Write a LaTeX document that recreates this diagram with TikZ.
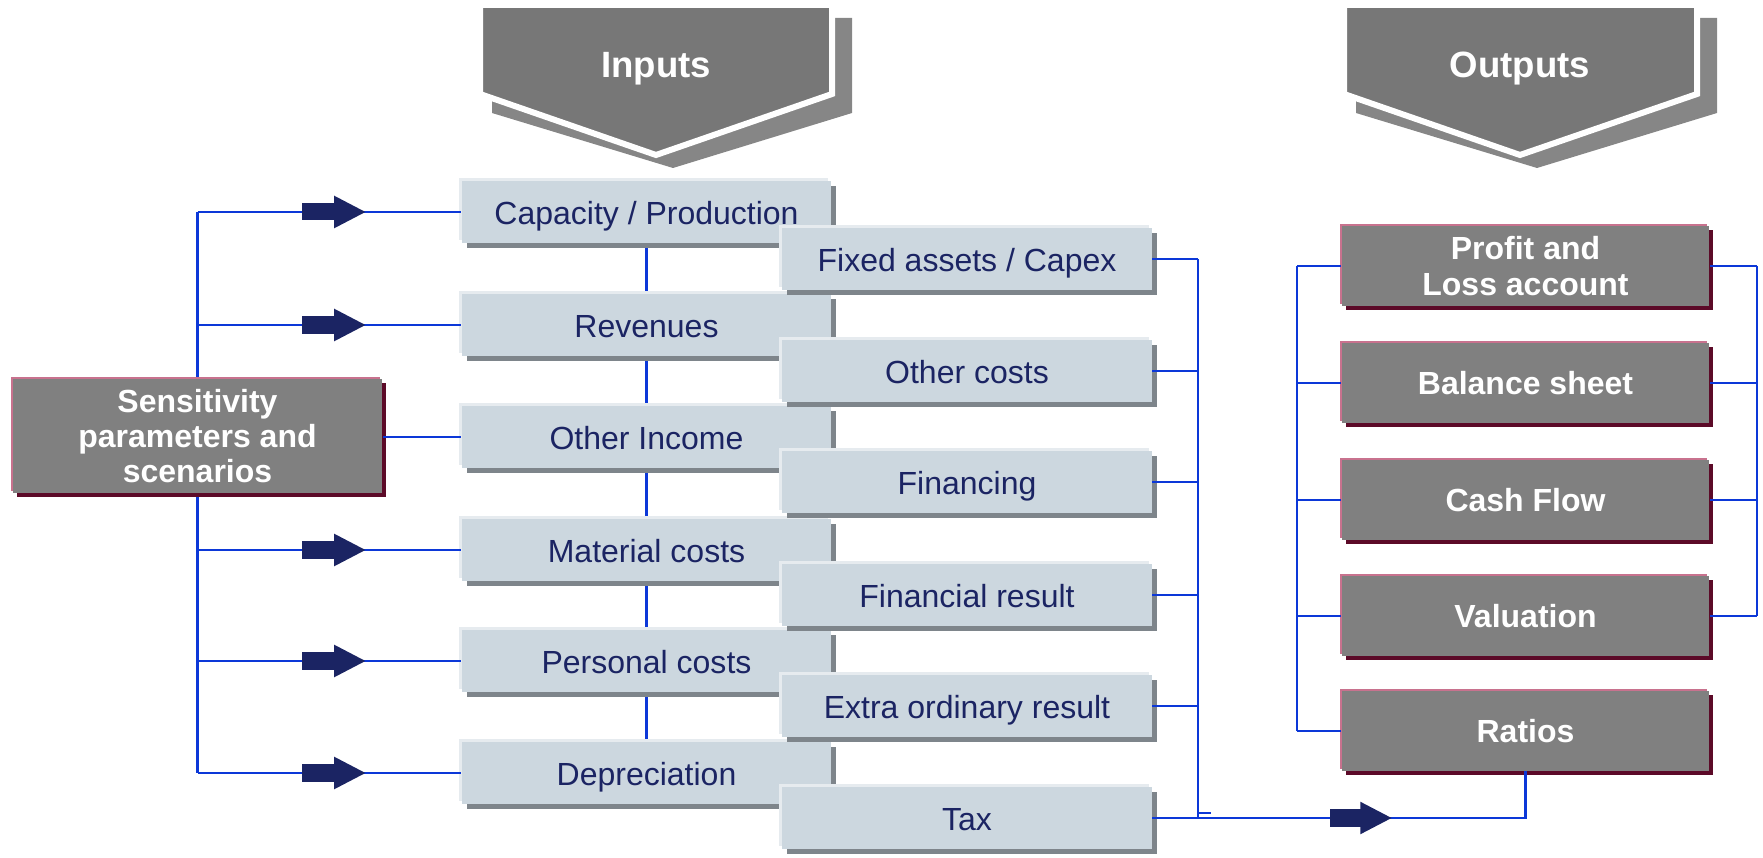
\documentclass[tikz,border=0pt]{standalone}
\usepackage{fontspec}
\setmainfont{Liberation Sans}
\usetikzlibrary{arrows.meta,
                backgrounds,
                shadows
            }

\definecolor{wire}{HTML}{0C38D8}
\definecolor{navy}{HTML}{1B2463}
\definecolor{infill}{HTML}{CCD7DF}
\definecolor{inshade}{HTML}{7E858B}
\definecolor{inlight}{HTML}{E6EBEF}
\definecolor{outfill}{HTML}{808080}
\definecolor{outrim}{HTML}{C8728E}
\definecolor{outshade}{HTML}{5C0A28}
\definecolor{headfront}{HTML}{777777}
\definecolor{headback}{HTML}{868686}

\begin{document}
\begin{tikzpicture}[x=0.01cm, y=-0.01cm,
        inbox/.style={fill=infill, text=navy, minimum width=3.69cm, minimum height=0.62cm,
            inner sep=0pt, text height=0.72em, text depth=0pt,
            font=\fontsize{9.1}{10}\selectfont,
            drop shadow={shadow xshift=-0.03cm, shadow yshift=0.03cm, fill=inlight, opacity=1},
            drop shadow={shadow xshift=0.05cm, shadow yshift=-0.05cm, fill=inshade, opacity=1}},
        outbox/.style={fill=outfill, text=white, minimum width=3.67cm, minimum height=0.79cm,
            inner sep=0pt, align=center, font=\bfseries\fontsize{9.1}{10}\selectfont,
            drop shadow={shadow xshift=-0.02cm, shadow yshift=0.02cm, fill=outrim, opacity=1},
            drop shadow={shadow xshift=0.04cm, shadow yshift=-0.04cm, fill=outshade, opacity=1}},
        headtext/.style={text=white, inner sep=0pt, anchor=base,
            font=\bfseries\fontsize{10.4}{12}\selectfont},
        wire/.style={draw=wire, line width=0.6pt},
        fatarrow/.style={draw=navy, line width=0.17cm,
            -{Triangle[length=0.32cm, width=0.30cm]}}
    ]
    \useasboundingbox (0,0) rectangle (1763,858);

    % headings
    \fill[headback] (492,18) -- (852,18) -- (852,113) -- (673,168) -- (492,113) -- cycle;
    \filldraw[fill=headfront, draw=white, line width=0.06cm]
        (480,5) -- (832,5) -- (832,94) -- (656,155) -- (480,94) -- cycle;
    \node[headtext] (intitle) at (656,78) {Inputs};

    \fill[headback] (1356,18) -- (1717,18) -- (1717,113) -- (1537,168) -- (1356,113) -- cycle;
    \filldraw[fill=headfront, draw=white, line width=0.06cm]
        (1344,5) -- (1697,5) -- (1697,94) -- (1520,155) -- (1344,94) -- cycle;
    \node[headtext] (outtitle) at (1520,78) {Outputs};

    % sensitivity
    \node[outbox, minimum width=3.69cm, minimum height=1.13cm] (sens) at (197.5,436)
        {Sensitivity\\parameters and\\scenarios};

    % inputs
    \node[inbox] (cap)  at (646.5,212) {Capacity / Production};
    \node[inbox] (rev)  at (646.5,325) {Revenues};
    \node[inbox] (inc)  at (646.5,437) {Other Income};
    \node[inbox] (mat)  at (646.5,550) {Material costs};
    \node[inbox] (pers) at (646.5,661) {Personal costs};
    \node[inbox] (depr) at (646.5,773) {Depreciation};

    \node[inbox] (fix)   at (967,259) {Fixed assets / Capex};
    \node[inbox] (oth)   at (967,371) {Other costs};
    \node[inbox] (fin)   at (967,482) {Financing};
    \node[inbox] (fres)  at (967,595) {Financial result};
    \node[inbox] (extra) at (967,706) {Extra ordinary result};
    \node[inbox] (tax)   at (967,818) {Tax};

    % outputs
    \node[outbox] (pl)    at (1525.5,266) {Profit and\\Loss account};
    \node[outbox] (bal)   at (1525.5,383) {Balance sheet};
    \node[outbox] (cash)  at (1525.5,500) {Cash Flow};
    \node[outbox] (val)   at (1525.5,616) {Valuation};
    \node[outbox] (ratio) at (1525.5,731) {Ratios};

    \coordinate (rbus) at (1198,0);
    \coordinate (lobus) at (1297,0);
    \coordinate (robus) at (1757,0);

    \begin{scope}[on background layer]
        \draw[wire] (cap) -- (depr);
        \draw[wire] (sens.center |- cap.west) -- (sens.center |- depr.west);
    \end{scope}

    \foreach \n in {cap, rev, mat, pers, depr} {
        \draw[wire] (sens.center |- \n.west) -- (\n.west);
        \draw[fatarrow] (\n.west) ++(-159,0) -- ++(64,0);
    }
    \draw[wire] (sens.east |- inc.west) -- (inc.west);

    \foreach \n in {fix, oth, fin, fres, extra}
        \draw[wire] (\n.east) -- (\n.east -| rbus);
    \draw[wire] (fix.east -| rbus) -- (tax.east -| rbus);
    \draw[wire] (tax.east -| rbus) ++(0,-5) -- ++(13,0);
    \draw[wire] (tax.east) -| (ratio.south);
    \draw[fatarrow] (tax.east) ++(178,0) -- ++(62,0);

    \foreach \n in {pl, bal, cash, val, ratio}
        \draw[wire] (\n.west) -- (\n.west -| lobus);
    \draw[wire] (pl.west -| lobus) -- (ratio.west -| lobus);
    \foreach \n in {pl, bal, cash, val}
        \draw[wire] (\n.east) -- (\n.east -| robus);
    \draw[wire] (pl.east -| robus) -- (val.east -| robus);
\end{tikzpicture}
\end{document}
